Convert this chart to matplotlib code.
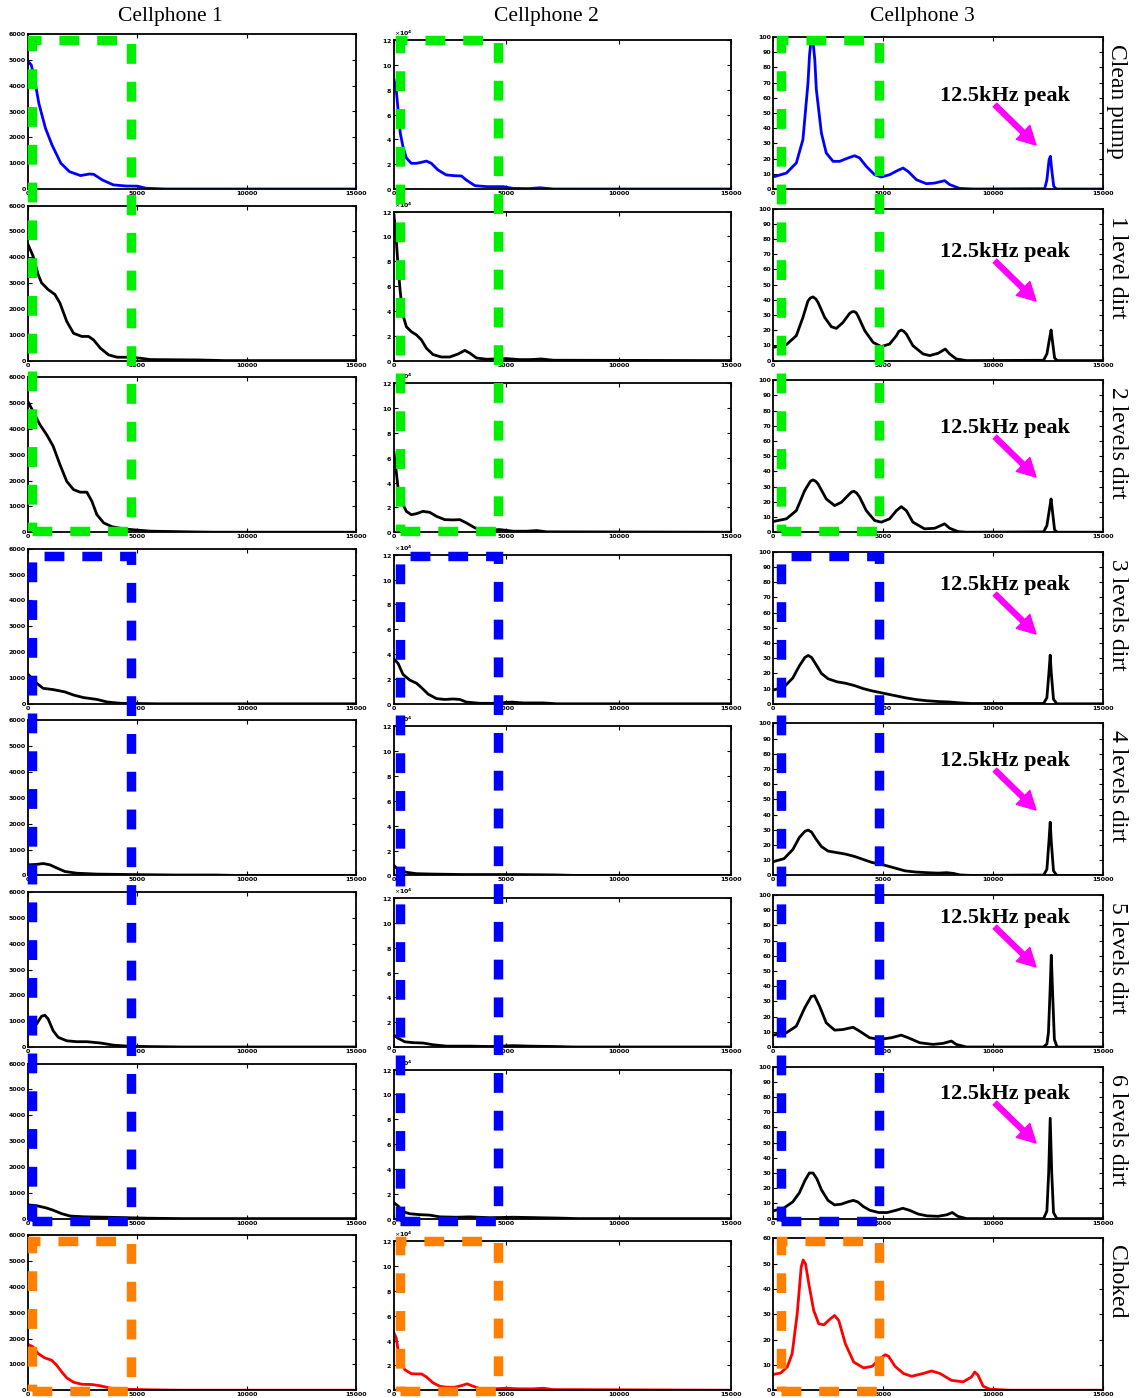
import matplotlib
matplotlib.use("Agg")
import matplotlib.pyplot as plt
import numpy as np
from matplotlib.patches import Rectangle
from matplotlib.ticker import ScalarFormatter, MultipleLocator

# -----------------------------
# data (frequency in Hz, amplitude)
# -----------------------------
phones = ["Cellphone 1", "Cellphone 2", "Cellphone 3"]
states = ["Clean pump", "1 level dirt", "2 levels dirt", "3 levels dirt",
          "4 levels dirt", "5 levels dirt", "6 levels dirt", "Choked"]
peak_label = "12.5kHz peak"

# cellphone 1
c1_r1_f = [0, 150, 300, 500, 800, 1100, 1500, 1900, 2400, 2800, 3000, 3400, 3900, 4500, 5000, 5400, 6300, 15000]
c1_r1_v = [4950, 4800, 4250, 3300, 2350, 1700, 1000, 670, 520, 580, 570, 350, 160, 115, 110, 30, 0, 0]
c1_r2_f = [0, 230, 460, 620, 920, 1230, 1460, 1770, 2080, 2460, 2770, 3000, 3310, 3690, 4080, 4690, 5150, 5600, 7800, 9000, 15000]
c1_r2_v = [4500, 4050, 3340, 3010, 2750, 2560, 2230, 1520, 1060, 935, 935, 800, 480, 220, 130, 130, 90, 40, 25, 0, 0]
c1_r3_f = [0, 230, 540, 850, 1150, 1460, 1770, 2080, 2380, 2690, 2920, 3150, 3460, 3850, 4380, 5000, 5620, 7600, 8500, 15000]
c1_r3_v = [5050, 4680, 4170, 3780, 3330, 2620, 1970, 1650, 1550, 1550, 1200, 680, 360, 210, 130, 80, 40, 10, 0, 0]
c1_r4_f = [0, 230, 390, 690, 1150, 1690, 2080, 2540, 3150, 3620, 4230, 5900, 15000]
c1_r4_v = [1150, 930, 800, 600, 550, 460, 340, 240, 170, 70, 20, 0, 0]
c1_r5_f = [0, 390, 690, 1000, 1310, 1690, 2230, 3150, 4540, 6690, 8540, 9500, 15000]
c1_r5_v = [410, 425, 460, 410, 290, 150, 85, 50, 35, 15, 15, 0, 0]
c1_r6_f = [0, 190, 390, 620, 770, 920, 1150, 1380, 1770, 2230, 2690, 3310, 3920, 4540, 5600, 7000, 15000]
c1_r6_v = [700, 760, 890, 1190, 1230, 1090, 630, 375, 240, 205, 205, 155, 70, 35, 15, 0, 0]
c1_r7_f = [0, 390, 850, 1150, 1540, 1920, 2540, 3770, 4540, 5460, 7000, 15000]
c1_r7_v = [530, 500, 410, 325, 190, 100, 70, 50, 35, 15, 0, 0]
c1_r8_f = [0, 230, 460, 770, 1080, 1310, 1540, 1770, 2080, 2460, 2920, 3310, 3770, 4380, 5620, 7000, 15000]
c1_r8_v = [1770, 1680, 1420, 1250, 1160, 970, 710, 480, 310, 230, 220, 170, 80, 40, 15, 0, 0]

# cellphone 2 (x 10^4)
c2_r1_f = [0, 100, 180, 280, 400, 550, 770, 1000, 1220, 1440, 1660, 1960, 2330, 2700, 3000, 3220, 3600, 4120, 4860, 5300, 6000, 6490, 7090, 15000]
c2_r1_v = [8.8, 8.0, 6.4, 4.5, 3.4, 2.5, 2.07, 2.07, 2.15, 2.25, 2.07, 1.53, 1.13, 1.07, 1.05, 0.72, 0.27, 0.19, 0.19, 0.05, 0.03, 0.1, 0, 0]
c2_r2_f = [0, 100, 180, 280, 400, 550, 770, 1000, 1220, 1440, 1740, 2110, 2480, 2850, 3150, 3370, 3670, 4120, 5000, 5600, 6050, 6570, 7090, 15000]
c2_r2_v = [11.7, 9.75, 7.6, 5.5, 3.66, 2.73, 2.33, 2.07, 1.67, 1.0, 0.48, 0.29, 0.29, 0.53, 0.82, 0.61, 0.21, 0.11, 0.16, 0.08, 0.08, 0.13, 0.03, 0]
c2_r3_f = [0, 100, 180, 330, 550, 770, 1000, 1290, 1590, 1890, 2260, 2630, 2930, 3220, 3600, 4120, 4710, 5300, 5900, 6350, 6790, 15000]
c2_r3_v = [6.4, 4.88, 3.55, 2.48, 1.68, 1.41, 1.49, 1.68, 1.6, 1.28, 1.01, 0.99, 1.01, 0.75, 0.35, 0.16, 0.21, 0.08, 0.08, 0.13, 0.03, 0]
c2_r4_f = [0, 180, 400, 700, 1000, 1220, 1520, 1890, 2260, 2630, 2930, 3220, 3820, 4410, 5230, 5750, 6640, 7240, 15000]
c2_r4_v = [3.6, 3.26, 2.37, 1.91, 1.66, 1.31, 0.78, 0.42, 0.35, 0.39, 0.35, 0.14, 0.04, 0.04, 0.14, 0.07, 0.07, 0, 0]
c2_r5_f = [0, 180, 550, 1000, 1590, 3080, 5300, 7090, 8000, 15000]
c2_r5_v = [0.8, 0.46, 0.25, 0.14, 0.11, 0.07, 0.07, 0.04, 0, 0]
c2_r6_f = [0, 180, 480, 850, 1290, 1740, 2330, 3370, 4260, 5300, 6050, 7090, 8000, 15000]
c2_r6_v = [0.95, 0.71, 0.42, 0.35, 0.32, 0.18, 0.07, 0.07, 0.04, 0.11, 0.07, 0.04, 0, 0]
c2_r7_f = [0, 180, 400, 700, 1140, 1590, 2040, 2780, 3370, 4260, 5300, 7380, 8200, 15000]
c2_r7_v = [1.27, 1.02, 0.56, 0.39, 0.32, 0.28, 0.14, 0.11, 0.14, 0.07, 0.11, 0.04, 0, 0]
c2_r8_f = [0, 100, 180, 280, 480, 770, 1000, 1220, 1440, 1740, 2040, 2330, 2700, 3000, 3250, 3520, 3820, 4410, 5000, 5600, 6200, 6640, 7090, 15000]
c2_r8_v = [4.6, 4.2, 3.25, 2.45, 1.65, 1.33, 1.31, 1.31, 1.07, 0.59, 0.32, 0.24, 0.24, 0.37, 0.51, 0.32, 0.13, 0.11, 0.16, 0.11, 0.11, 0.16, 0.05, 0]

# cellphone 3
c3_r1_f = [0, 610, 1060, 1360, 1590, 1660, 1740, 1800, 1900, 1970, 2200, 2420, 2730, 3030, 3410, 3710, 3940, 4240, 4620, 4920, 5300, 5680, 5910, 6140, 6520, 6970, 7350, 7800, 8030, 8480, 9090, 12350, 12450, 12550, 12610, 12670, 12760, 12880, 15000]
c3_r1_v = [7.9, 10.5, 17.1, 32.5, 69.7, 88, 99.3, 100, 85, 65.4, 36.8, 23.7, 18.2, 18.2, 20.4, 21.9, 20.4, 14.9, 9.4, 7.9, 9.4, 12.3, 13.8, 11.6, 6.1, 3.5, 3.9, 5.5, 2.9, 0.4, 0, 0.2, 6.1, 19.3, 21.5, 12.7, 1.8, 0, 0]
c3_r2_f = [0, 610, 1060, 1360, 1590, 1700, 1820, 1950, 2050, 2350, 2650, 2880, 3180, 3480, 3580, 3680, 3780, 3860, 4170, 4550, 4920, 5300, 5610, 5720, 5830, 5940, 6060, 6360, 6820, 7120, 7500, 7830, 8030, 8330, 8790, 12300, 12450, 12580, 12640, 12700, 12800, 12920, 15000]
c3_r2_v = [8.7, 10.5, 16.4, 28.4, 39.3, 41.2, 41.9, 40.5, 38.2, 28.4, 22.3, 21.2, 25.1, 31.0, 32.0, 32.3, 31.5, 29.5, 19.7, 12.0, 9.2, 10.9, 16.4, 19.2, 20.1, 19.3, 17.5, 9.8, 4.4, 3.3, 4.8, 7.6, 4.4, 1.1, 0, 0.2, 4.4, 15.3, 20.1, 13.1, 1.7, 0, 0]
c3_r3_f = [0, 610, 1060, 1440, 1700, 1820, 1940, 2050, 2420, 2800, 3110, 3480, 3580, 3680, 3800, 3940, 4240, 4620, 4920, 5300, 5610, 5830, 6060, 6360, 6890, 7350, 7800, 8030, 8410, 8790, 12300, 12450, 12580, 12640, 12700, 12800, 12920, 15000]
c3_r3_v = [7, 8.8, 14.2, 27.4, 33.5, 34.4, 33.5, 31.7, 21.9, 17.5, 19.7, 25.2, 26.5, 26.9, 25.8, 23.0, 14.2, 7.7, 6.6, 8.8, 14.2, 16.8, 14.2, 6.6, 2.2, 2.6, 5.5, 2.6, 0.4, 0, 0.2, 4.4, 16.4, 21.9, 14.2, 1.5, 0, 0]
c3_r4_f = [0, 500, 900, 1200, 1450, 1600, 1750, 1950, 2200, 2500, 2900, 3300, 3700, 4100, 4500, 5000, 5500, 6000, 6500, 7000, 7500, 8000, 8500, 9000, 12300, 12450, 12550, 12600, 12650, 12750, 12900, 15000]
c3_r4_v = [9, 11, 17, 25, 30.5, 31.8, 30.5, 26, 20, 16.5, 14.5, 13.5, 12, 10, 8.5, 7, 5.5, 4, 2.8, 2, 1.5, 1.2, 0.6, 0.2, 0.2, 4, 22, 32, 20, 3, 0, 0]
c3_r5_f = [0, 500, 900, 1200, 1450, 1600, 1750, 1950, 2200, 2500, 2900, 3300, 3700, 4100, 4500, 5000, 5500, 6000, 6500, 7000, 7500, 7900, 8200, 8500, 9000, 12300, 12450, 12550, 12600, 12650, 12750, 12900, 15000]
c3_r5_v = [9, 11, 17, 25, 29, 29.8, 28.5, 24, 19, 16, 15, 14, 12.5, 10.5, 8.5, 7, 5, 3, 2.2, 1.8, 1.5, 1.8, 1.3, 0.3, 0, 0.2, 4, 24, 35, 22, 3, 0, 0]
c3_r6_f = [0, 610, 1060, 1440, 1740, 1890, 2120, 2420, 2800, 3180, 3640, 3940, 4390, 4850, 5380, 5830, 6140, 6670, 7270, 7730, 8110, 8330, 8790, 12300, 12450, 12520, 12590, 12650, 12710, 12790, 12910, 15000]
c3_r6_v = [7.8, 9.4, 13.7, 25.7, 33.3, 33.7, 26.7, 15.9, 11.1, 11.5, 13.0, 10.4, 6.1, 5.0, 6.1, 7.8, 6.1, 2.8, 1.7, 2.4, 3.9, 1.7, 0, 0, 2, 9.4, 35.4, 60.4, 35.4, 5, 0, 0]
c3_r7_f = [0, 500, 900, 1200, 1450, 1650, 1820, 2000, 2200, 2500, 2800, 3100, 3400, 3650, 3850, 4100, 4400, 4800, 5200, 5600, 5900, 6200, 6600, 7000, 7500, 7900, 8150, 8400, 8800, 12300, 12450, 12530, 12600, 12670, 12750, 12900, 15000]
c3_r7_v = [5, 7, 11, 17, 25, 30, 30, 26, 19, 12, 9, 9.5, 11, 12, 11, 8, 5.5, 4, 4, 5.5, 6.8, 5.5, 3, 1.8, 1.5, 2.5, 4, 1.5, 0, 0, 5, 30, 66, 30, 4, 0, 0]
c3_r8_f = [0, 350, 650, 870, 1100, 1280, 1370, 1480, 1630, 1850, 2080, 2310, 2610, 2800, 2990, 3290, 3670, 4120, 4500, 4870, 5100, 5250, 5550, 5930, 6300, 6830, 7210, 7590, 8110, 8640, 9020, 9170, 9320, 9550, 9850, 10750, 15000]
c3_r8_v = [6.2, 6.8, 9.2, 14.4, 30.1, 48.5, 51.4, 49.8, 41.9, 31.5, 26.2, 25.8, 28.2, 29.5, 27.5, 18.3, 11.1, 8.8, 9.4, 12.5, 14.0, 13.4, 9.4, 6.6, 5.5, 6.6, 7.6, 6.6, 3.9, 3.3, 5.2, 7.2, 5.9, 1.6, 0.4, 0, 0]

curves = [
    [(c1_r1_f, c1_r1_v), (c1_r2_f, c1_r2_v), (c1_r3_f, c1_r3_v), (c1_r4_f, c1_r4_v),
     (c1_r5_f, c1_r5_v), (c1_r6_f, c1_r6_v), (c1_r7_f, c1_r7_v), (c1_r8_f, c1_r8_v)],
    [(c2_r1_f, c2_r1_v), (c2_r2_f, c2_r2_v), (c2_r3_f, c2_r3_v), (c2_r4_f, c2_r4_v),
     (c2_r5_f, c2_r5_v), (c2_r6_f, c2_r6_v), (c2_r7_f, c2_r7_v), (c2_r8_f, c2_r8_v)],
    [(c3_r1_f, c3_r1_v), (c3_r2_f, c3_r2_v), (c3_r3_f, c3_r3_v), (c3_r4_f, c3_r4_v),
     (c3_r5_f, c3_r5_v), (c3_r6_f, c3_r6_v), (c3_r7_f, c3_r7_v), (c3_r8_f, c3_r8_v)],
]
value_scale = [1, 1e4, 1]

# -----------------------------
# layout (pixels)
# -----------------------------
W, H = 1138, 1398
col_left = [28, 394, 773]
col_right = [356, 731, 1103]
col_height = [155, 149, 152]
row_bottom = [189 + 171.6 * i for i in range(8)]
line_colors = ["#0000ff"] + ["black"] * 6 + ["#ff0000"]

serif = ["Liberation Serif", "DejaVu Serif"]

fig = plt.figure(figsize=(W / 100, H / 100), dpi=100)
right_axes = []

for c in range(3):
    for r in range(8):
        b = row_bottom[r]
        h = col_height[c]
        ax = fig.add_axes([col_left[c] / W, 1 - b / H, (col_right[c] - col_left[c]) / W, h / H])
        f, v = curves[c][r]
        ax.plot(f, np.array(v) * value_scale[c], color=line_colors[r], lw=2.0)
        ax.set_xlim(0, 15000)
        ax.xaxis.set_major_locator(MultipleLocator(5000))
        if c == 0:
            ax.set_ylim(0, 6000)
            ax.yaxis.set_major_locator(MultipleLocator(1000))
        elif c == 1:
            ax.set_ylim(0, 12e4)
            ax.yaxis.set_major_locator(MultipleLocator(2e4))
            fmt = ScalarFormatter(useMathText=True)
            fmt.set_powerlimits((4, 4))
            ax.yaxis.set_major_formatter(fmt)
            ax.yaxis.get_offset_text().set_fontsize(4.5)
            ax.yaxis.get_offset_text().set_fontweight("bold")
        else:
            top = 60 if r == 7 else 100
            ax.set_ylim(0, top)
            ax.yaxis.set_major_locator(MultipleLocator(10))
            right_axes.append(ax)
        ax.tick_params(direction="in", top=True, right=True, length=3, width=0.8,
                       labelsize=4.5, pad=1.5)
        for lab in ax.get_xticklabels() + ax.get_yticklabels():
            lab.set_fontweight("bold")
        for sp in ax.spines.values():
            sp.set_linewidth(1.3)

# column titles
title_x = [170, 546, 922]
for c in range(3):
    fig.text(title_x[c] / W, 1 - 17 / H, phones[c], ha="center", va="center",
             fontsize=15.5, family=serif)

# row labels on the right
for r in range(8):
    top_px = row_bottom[r] - 155 + 10
    fig.text(1117 / W, 1 - top_px / H, states[r], rotation=270, ha="center", va="top",
             fontsize=17, family=serif)

# 12.5kHz peak annotations
text_y = [96, 252, 428, 585, 761, 918, 1094]
for r, ty in enumerate(text_y):
    fig.text(1005 / W, 1 - ty / H, peak_label, ha="center", va="center",
             fontsize=16, fontweight="bold", family=serif)
    right_axes[r].annotate("", xy=(1036 / W, 1 - (ty + 49) / H), xycoords="figure fraction",
                           xytext=(995 / W, 1 - (ty + 9) / H), textcoords="figure fraction",
                           arrowprops=dict(facecolor="#ff00ff", edgecolor="#ff00ff",
                                           width=3.6, headwidth=14, headlength=13, shrink=0))

# dashed boxes
box_x = [(32, 130.5), (399.5, 497.5), (780.5, 878.5)]
groups = [("#00ee00", 40, 531), ("#0000ff", 556, 1221), ("#ff8000", 1241, 1391)]
for color, y0, y1 in groups:
    for x0, x1 in box_x:
        rect = Rectangle((x0 / W, 1 - y1 / H), (x1 - x0) / W, (y1 - y0) / H,
                         transform=fig.transFigure, fill=False, edgecolor=color,
                         lw=6.8, linestyle=(0, (2.1, 1.9)), clip_on=False, zorder=5)
        fig.add_artist(rect)

fig.savefig("out.png", dpi=100)
